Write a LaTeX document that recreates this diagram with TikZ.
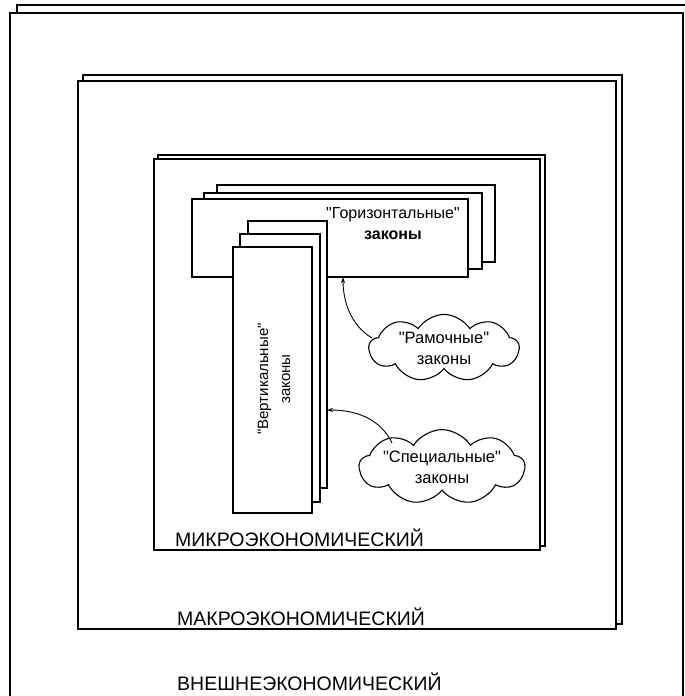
\documentclass[tikz,border=0pt]{standalone}
\usepackage{fontspec}
\setmainfont{Liberation Sans}[Ligatures=TeXOff]
\usetikzlibrary{shapes.symbols,arrows.meta}
\newcommand{\qq}{\symbol{34}}
\tikzset{
  sheet/.style={draw=black, fill=white, line width=1.1pt},
  lvl/.style={anchor=west, inner sep=0pt, font=\fontsize{19.5}{22}\selectfont},
  lbl/.style={inner sep=0pt, align=center, font=\fontsize{16}{21}\selectfont},
  cloudbox/.style={cloud, cloud puffs=9, cloud puff arc=115, cloud ignores aspect, draw=black, fill=white, line width=1.1pt, inner sep=0pt, align=center, font=\fontsize{16.5}{21}\selectfont},
  link/.style={line width=0.9pt, -{Stealth[length=6pt,width=4pt]}}
}
\begin{document}
\begin{tikzpicture}[x=1pt,y=-1pt]
\useasboundingbox (0,0) rectangle (685,696);
\clip (0,0) rectangle (685,696);
\fill[white] (0,0) rectangle (685,696);
% outer level
\draw[sheet] (17,5) rectangle (720,720);
\draw[sheet] (10,13) rectangle (683,720);
% macro level
\draw[sheet] (83,75) rectangle (622,624);
\draw[sheet] (78,81) rectangle (616,629);
% micro level
\draw[sheet] (158,155) rectangle (545,546);
\draw[sheet] (154,159) rectangle (540,550);
% horizontal laws
\draw[sheet] (217,185) rectangle (495,262);
\draw[sheet] (204,193) rectangle (482,269);
\draw[sheet] (192,199) rectangle (468,277);
\coordinate (hb) at (343,277);
% vertical laws
\draw[sheet] (248,221) rectangle (327,488);
\draw[sheet] (240,234) rectangle (320,502);
\draw[sheet] (233,247) rectangle (312,513);
\coordinate (vr) at (327,410);
% texts in boxes
\node[lbl] (htext) at (393,224) {\qq Горизонтальные\qq\\\textbf{законы}};
\node[lbl, rotate=90, font=\fontsize{15}{22}\selectfont] (vtext) at (274,379) {\qq Вертикальные\qq\\законы};
% clouds
\node[cloudbox, minimum width=150pt, minimum height=60pt] (ramk) at (444,348) {\qq Рамочные\qq\\законы};
\node[cloudbox, minimum width=162pt, minimum height=72pt] (spec) at (442,467) {\qq Специальные\qq\\законы};
% links
\draw[link] (372,338) .. controls (350,325) and (343,300) .. (hb);
\draw[link] (392,443) .. controls (380,418) and (355,410) .. (vr);
% level names
\node[lvl] (micro) at (175,538) {МИКРОЭКОНОМИЧЕСКИЙ};
\node[lvl] (macro) at (177,617) {МАКРОЭКОНОМИЧЕСКИЙ};
\node[lvl] (outer) at (177,682) {ВНЕШНЕЭКОНОМИЧЕСКИЙ};
\end{tikzpicture}
\end{document}
